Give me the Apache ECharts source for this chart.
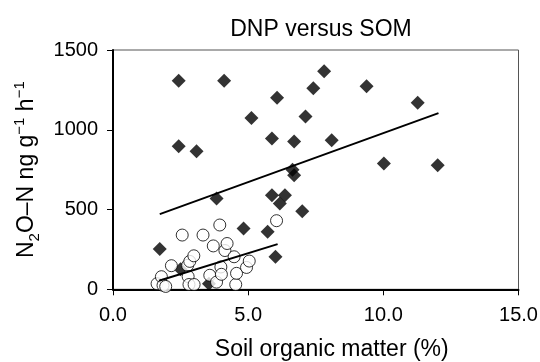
<!DOCTYPE html>
<html>
<head>
<meta charset="utf-8">
<script src="https://cdn.jsdelivr.net/npm/echarts@6/dist/echarts.min.js"></script>
<style>html,body{margin:0;padding:0;background:#fff;}#c{width:540px;height:362px;}</style>
</head>
<body>
<div id="c"></div>
<script>
// Diamonds (filled) : [SOM %, N2O-N]
const diamondData = [
  [2.43,1308],[4.11,1308],[7.81,1367],[7.41,1260],[9.38,1273],[11.27,1169],
  [6.07,1200],[5.12,1073],[7.12,1083],[5.88,946],[6.70,927],[8.09,935],
  [2.43,896],[3.09,865],[10.02,788],[12.01,777],[6.64,750],[6.70,715],
  [3.83,569],[5.88,590],[6.36,590],[6.17,538],[7.00,490],[4.83,381],
  [5.72,360],[1.73,252],[6.01,204],[2.50,125],[3.55,35]
];
// Circles (open)
const circleData = [
  [1.63,35],[1.79,79],[1.85,25],[1.95,18],[2.16,148],[2.56,340],[2.76,150],
  [2.78,80],[2.81,30],[2.84,175],[2.99,210],[3.00,30],[3.33,340],[3.58,88],
  [3.71,272],[3.83,45],[3.95,403],[3.99,140],[4.01,94],[4.14,243],[4.22,287],
  [4.48,204],[4.54,30],[4.57,100],[4.94,137],[5.04,177],[6.05,430]
];
// Regression lines (endpoints)
const diamondFit = [[1.73,471],[12.04,1104]];
const circleFit = [[1.70,54],[6.09,283]];
const xTicks = [0,5,10,15];
const yTicks = [0,500,1000,1500];

const chart = echarts.init(document.getElementById('c'), null, {renderer:'canvas'});
const font = 'Liberation Sans, Arial, Helvetica, sans-serif';
chart.setOption({
  animation:false,
  backgroundColor:'#fff',
  title:{
    text:'DNP versus SOM', left:316, top:13, textAlign:'center',
    textStyle:{fontFamily:font, fontSize:23, fontWeight:'normal', color:'#000'}
  },
  grid:{left:113, right:21.5, top:50, bottom:72.7, show:true, borderColor:'#555', borderWidth:1,
        containLabel:false, outerBoundsMode:'none'},
  xAxis:{
    type:'value', min:0, max:15, interval:5,
    name:'Soil organic matter (%)', nameLocation:'middle', nameGap:49,
    nameTextStyle:{fontFamily:font, fontSize:23, color:'#000', padding:[0,0,0,32]},
    axisLine:{lineStyle:{color:'#000', width:2}},
    axisTick:{show:true, length:6, lineStyle:{color:'#000', width:1}},
    axisLabel:{fontFamily:font, fontSize:20, color:'#000', margin:16, formatter:v=>v.toFixed(1)},
    splitLine:{show:false}
  },
  yAxis:{
    type:'value', min:0, max:1500, interval:500,
    name:'N{sub|2}O–N ng g{sup|−1} h{sup|−1}', nameLocation:'middle', nameGap:71, nameRotate:90,
    nameTextStyle:{fontFamily:font, fontSize:23, color:'#000', lineHeight:30,
      rich:{
        sub:{fontFamily:font, fontSize:15, color:'#000', verticalAlign:'bottom', lineHeight:30, padding:[11,0,0,0]},
        sup:{fontFamily:font, fontSize:15, color:'#000', verticalAlign:'top', lineHeight:30, padding:[0,0,11,0]}
      }},
    axisLine:{show:true, lineStyle:{color:'#000', width:2}},
    axisTick:{show:true, length:6, lineStyle:{color:'#000', width:1}},
    axisLabel:{fontFamily:font, fontSize:20, color:'#000', margin:15, formatter:v=>String(v)},
    splitLine:{show:false}
  },
  series:[
    {type:'scatter', data:diamondData, symbol:'diamond', symbolSize:14,
     itemStyle:{color:'#000'}, z:2},
    {type:'scatter', data:circleData, symbol:'circle', symbolSize:12,
     itemStyle:{color:'#fff', borderColor:'#000', borderWidth:1}, z:3},
    {type:'line', data:diamondFit, symbol:'none', lineStyle:{color:'#000', width:2}, z:4},
    {type:'line', data:circleFit, symbol:'none', lineStyle:{color:'#000', width:2}, z:4}
  ]
});
</script>
</body>
</html>
